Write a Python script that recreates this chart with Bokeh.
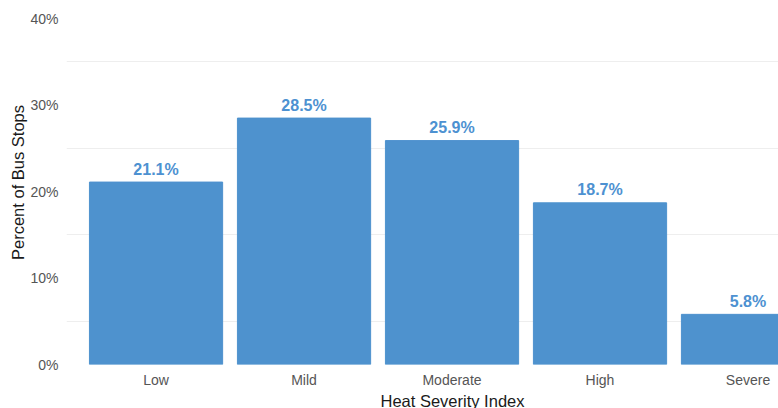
from bokeh.plotting import figure
from bokeh.models import Range1d, FixedTicker, SingleIntervalTicker, PrintfTickFormatter, Title, ColumnDataSource
from bokeh.core.properties import value
from bokeh.embed import file_html
from bokeh.resources import INLINE

categories = ["Low", "Mild", "Moderate", "High", "Severe"]
percent = [21.1, 28.5, 25.9, 18.7, 5.8]
y_ticks_interval = 10
x_title = "Heat Severity Index"
y_title = "Percent of Bus Stops"

idx = list(range(len(categories)))
labels = [f"{v:.1f}%" for v in percent]
grid_ticks = [i * y_ticks_interval + y_ticks_interval / 2 for i in range(4)]
src = ColumnDataSource(dict(x=idx, top=percent, label=labels))

FONT = "Liberation Sans"
BAR = "#4E92CE"
LAB = "#4D91D1"

p = figure(width=778, height=408, output_backend="svg", toolbar_location=None,
           x_range=Range1d(-0.605, 4.206), y_range=Range1d(0, 42.1),
           min_border_left=66, min_border_bottom=44, min_border_top=0, min_border_right=0)
p.outline_line_color = None
p.background_fill_color = "white"
p.border_fill_color = "white"

p.vbar(x="x", top="top", width=0.9, source=src, fill_color=BAR, line_color=BAR)
p.text(x="x", y="top", text="label", source=src, text_align="center",
       text_baseline="alphabetic", y_offset=-13, text_color=LAB,
       text_font=value(FONT), text_font_size="16px", text_font_style="bold")

# axes
p.xaxis.ticker = FixedTicker(ticks=idx)
p.xaxis.major_label_overrides = {i: c for i, c in zip(idx, categories)}
p.yaxis.ticker = SingleIntervalTicker(interval=y_ticks_interval, num_minor_ticks=0)
p.yaxis.formatter = PrintfTickFormatter(format="%d%%")
for ax in (p.xaxis, p.yaxis):
    ax.axis_line_color = None
    ax.major_tick_line_color = None
    ax.minor_tick_line_color = None
    ax.major_label_text_font = FONT
    ax.major_label_text_font_size = "14px"
    ax.major_label_text_color = "#555555"
p.yaxis.major_label_standoff = 2
p.xaxis.major_label_standoff = 1
p.yaxis.axis_label = y_title
p.yaxis.axis_label_text_font = FONT
p.yaxis.axis_label_text_font_size = "16.5px"
p.yaxis.axis_label_text_font_style = "normal"
p.yaxis.axis_label_text_color = "#1a1a1a"
p.yaxis.axis_label_standoff = 0

p.xgrid.grid_line_color = None
p.ygrid.ticker = FixedTicker(ticks=grid_ticks)
p.ygrid.grid_line_color = "#EEEEEE"
p.ygrid.grid_line_width = 1.2

p.add_layout(Title(text=x_title, align="left", offset=314, text_font=FONT,
                   text_font_size="16.5px", text_font_style="normal",
                   text_color="#1a1a1a", standoff=-2), "below")

open("out.html", "w").write(file_html(p, INLINE))
